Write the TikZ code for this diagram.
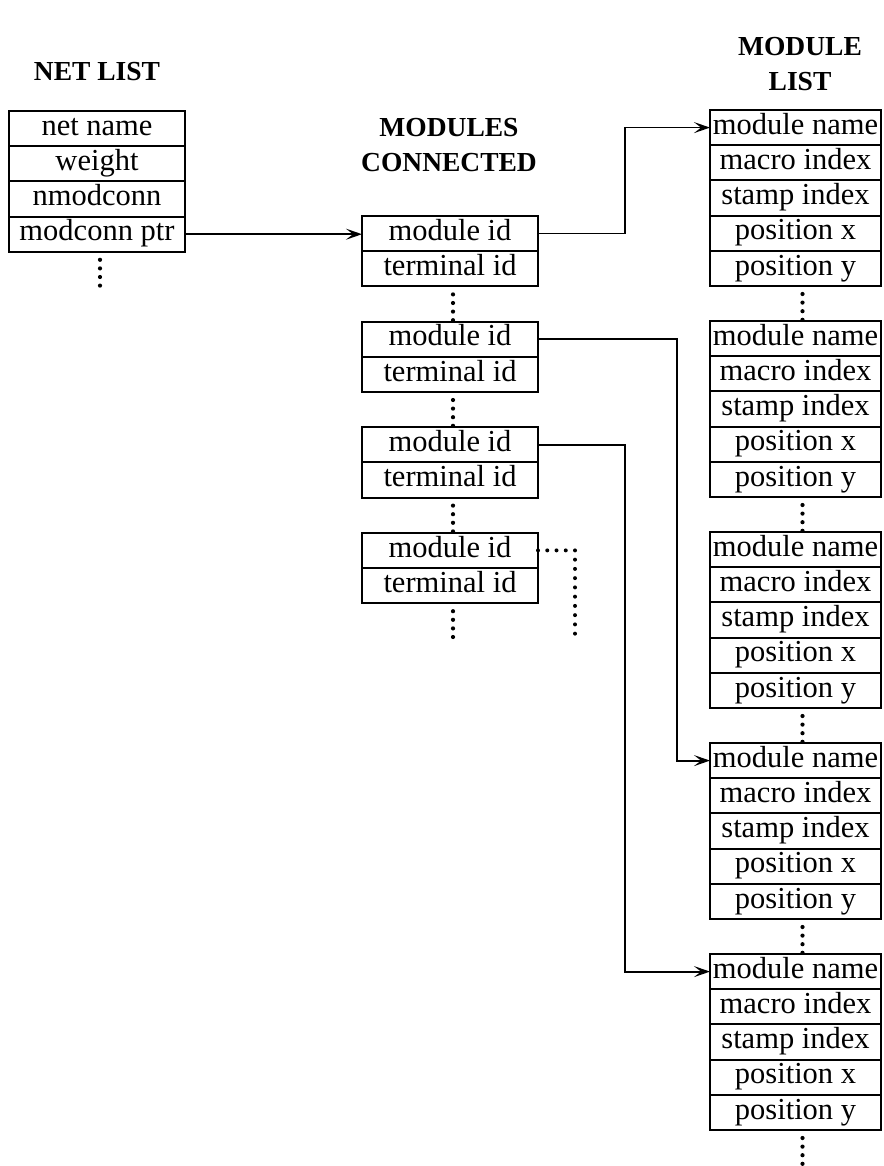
\documentclass[tikz,border=0pt]{standalone}
\usepackage{fontspec}
\setmainfont{Liberation Serif}
\usetikzlibrary{arrows.meta}
\newcommand\cellsize{\fontsize{30.5}{36}\selectfont}
\newcommand\headsize{\fontsize{27.5}{35}\selectfont\bfseries}
\begin{document}
\begin{tikzpicture}[x=1pt,y=-1pt,
  cell/.style={draw, line width=2pt, rectangle, inner sep=0pt, outer sep=0pt,
    minimum height=35.2pt, text height=20pt, text depth=6.5pt, font=\cellsize,
    anchor=north west},
  netcell/.style={cell, minimum width=176pt},
  modcell/.style={cell, minimum width=176pt},
  listcell/.style={cell, minimum width=171pt},
  heading/.style={font=\headsize, align=center, inner sep=0pt},
  ptr/.style={line width=1.8pt, -{Stealth[length=16pt,width=11pt,inset=7pt]}},
  dotline/.style={line width=4pt, line cap=round, dash pattern=on 0pt off 9.25pt},
  pics/colondots/.style={code={\foreach \k in {0,1,2,3} \fill (0,{8.6*\k}) circle (2.1pt);}}
]
\useasboundingbox (0,0) rectangle (883,1166);

% headings
\node[heading] (hnet) at (97,72) {NET LIST};
\node[heading] (hcon) at (449,145.5) {MODULES\\CONNECTED};
\node[heading] (hmod) at (800,64.5) {MODULE\\LIST};

% net list record
\foreach \t [count=\i] in {net name, weight, nmodconn, modconn ptr}
  \node[netcell] (n\i) at (9,{111+35.2*(\i-1)}) {\t};

% modules connected records
\foreach \b in {1,...,4} {
  \node[modcell] (c\b-a) at (362,{216+105.6*(\b-1)}) {module id};
  \node[modcell] (c\b-b) at (362,{216+105.6*(\b-1)+35.2}) {terminal id};
}

% module list records
\foreach \k in {1,...,5} {
  \foreach \t [count=\r] in {module name, macro index, stamp index, position x, position y}
    \node[listcell] (m\k-\r) at (710,{110+211*(\k-1)+35.2*(\r-1)}) {\t};
}

% continuation dots
\pic at ([xshift=3pt,yshift=-8pt]n4.south) {colondots};
\foreach \b in {1,...,4}
  \pic at ([xshift=3pt,yshift=-8pt]c\b-b.south) {colondots};
\foreach \k in {1,...,5}
  \pic at ([xshift=7pt,yshift=-8pt]m\k-5.south) {colondots};

% pointers
\coordinate (bendA) at (625,0);
\coordinate (bendB) at (677,0);
\coordinate (tail) at (575,640);
\draw[ptr] (n4.east) -- (n4.east -| c1-a.west);
\draw[ptr] (c1-a.east) -- (c1-a.east -| bendA) |- (m1-1.west);
\draw[ptr] (c2-a.east) -- (c2-a.east -| bendB) |- (m4-1.west);
\draw[ptr] (c3-a.east) -- (c3-a.east -| bendA) |- (m5-1.west);
\draw[dotline] (c4-a.east) -| (tail);
\end{tikzpicture}
\end{document}
